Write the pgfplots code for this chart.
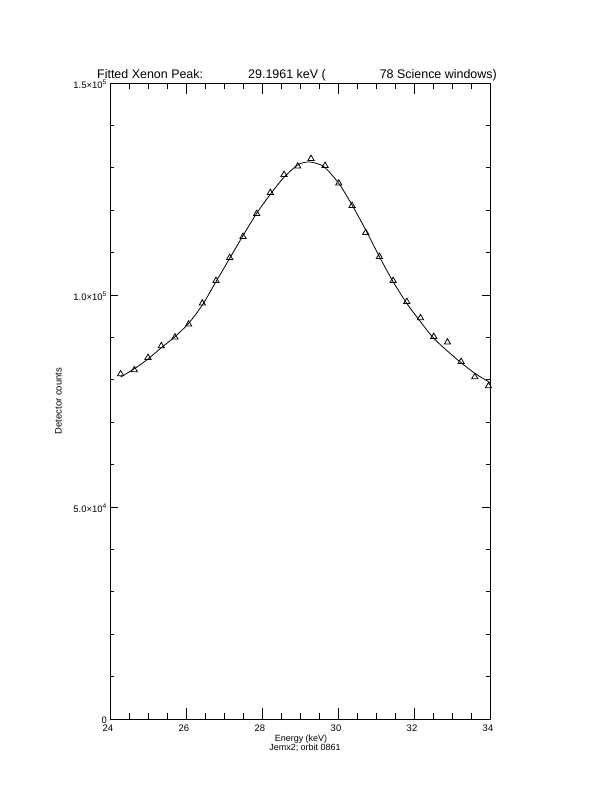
\documentclass[border=0pt]{standalone}
\usepackage{pgfplots}
\pgfplotsset{compat=1.18}
\usepackage{fontspec}
\setmainfont{Liberation Sans}

\begin{document}
\begin{tikzpicture}
\begin{axis}[
  scale only axis, width=380bp, height=636bp,
  xmin=24, xmax=34, ymin=0, ymax=150000,
  axis line style={line width=0.9bp},
  tick align=inside,
  xtick={24,26,28,30,32,34},
  xticklabels={24,26,28,30,32,34},
  minor x tick num=3,
  ytick={0,50000,100000,150000},
  yticklabels={0,{5.0×10\textsuperscript{4}},{1.0×10\textsuperscript{5}},{1.5×10\textsuperscript{5}}},
  minor y tick num=4,
  scaled y ticks=false,
  xtick style={line width=0.8bp, black, /pgfplots/major tick length=11bp, /pgfplots/minor tick length=6bp},
  ytick style={line width=0.8bp, black, /pgfplots/major tick length=8bp, /pgfplots/minor tick length=4.5bp},
  tick label style={font=\fontsize{9.5}{10}\selectfont},
  xticklabel style={inner sep=0pt, anchor=north, yshift=-6bp, xshift=-2bp},
  yticklabel style={inner sep=0pt, anchor=east, xshift=-3bp, yshift=-1bp},
  clip=false,
]
% fitted curve
\addplot[black, line width=0.8bp, smooth, no marks] coordinates {
(24.28,80660) (24.64,82600) (25.00,84900) (25.35,87570) (25.71,90170)
(26.07,93330) (26.43,97640) (26.79,103140) (27.15,108650) (27.50,113990)
(27.86,119270) (28.22,123750) (28.58,127760) (28.94,130660) (29.20,131370)
(29.45,131000) (29.66,130020) (30.02,126340) (30.37,121230) (30.73,115330)
(31.09,109030) (31.45,103140) (31.81,98040) (32.17,93700) (32.52,89790)
(32.88,86790) (33.24,84030) (33.60,81530) (33.96,79550) (34.00,79250)
};
% measured points
\addplot[black, only marks, mark=triangle, mark size=3.6bp, mark options={line width=0.8bp}] coordinates {
(24.28,81368) (24.64,82311) (25.00,85213) (25.35,87972) (25.71,90024)
(26.07,93090) (26.43,98043) (26.79,103373) (27.15,108798) (27.50,113751)
(27.86,119175) (28.22,124128) (28.58,128373) (28.94,130354) (29.29,132147)
(29.66,130496) (30.02,126345) (30.37,121062) (30.73,114694) (31.09,109034)
(31.45,103373) (31.81,98420) (32.17,94576) (32.52,90165) (32.88,88845)
(33.24,84269) (33.60,80661) (33.96,78538)
};
\end{axis}
\coordinate (O) at (current axis.south west);
\path (O) ++(-110bp,-73bp) rectangle ++(612bp,792bp);
\begin{scope}[every node/.style={inner sep=0pt}]
\node[anchor=base west, font=\fontsize{12.5}{13}\selectfont] at ([xshift=-13bp,yshift=640bp]O) {Fitted Xenon Peak:};
\node[anchor=base west, font=\fontsize{12.5}{13}\selectfont] at ([xshift=138bp,yshift=640bp]O) {29.1961 keV (};
\node[anchor=base east, font=\fontsize{12.5}{13}\selectfont] at ([xshift=387bp,yshift=640bp]O) {78 Science windows)};
\node[anchor=base, font=\fontsize{9}{10}\selectfont] at ([xshift=191bp,yshift=-22bp]O) {Energy (keV)};
\node[anchor=base, font=\fontsize{9}{10}\selectfont] at ([xshift=195bp,yshift=-31bp]O) {Jemx2; orbit 0861};
\node[rotate=90, anchor=center, font=\fontsize{9.5}{10}\selectfont] at ([xshift=-51.5bp,yshift=318bp]O) {Detector counts};
\end{scope}
\end{tikzpicture}
\end{document}
